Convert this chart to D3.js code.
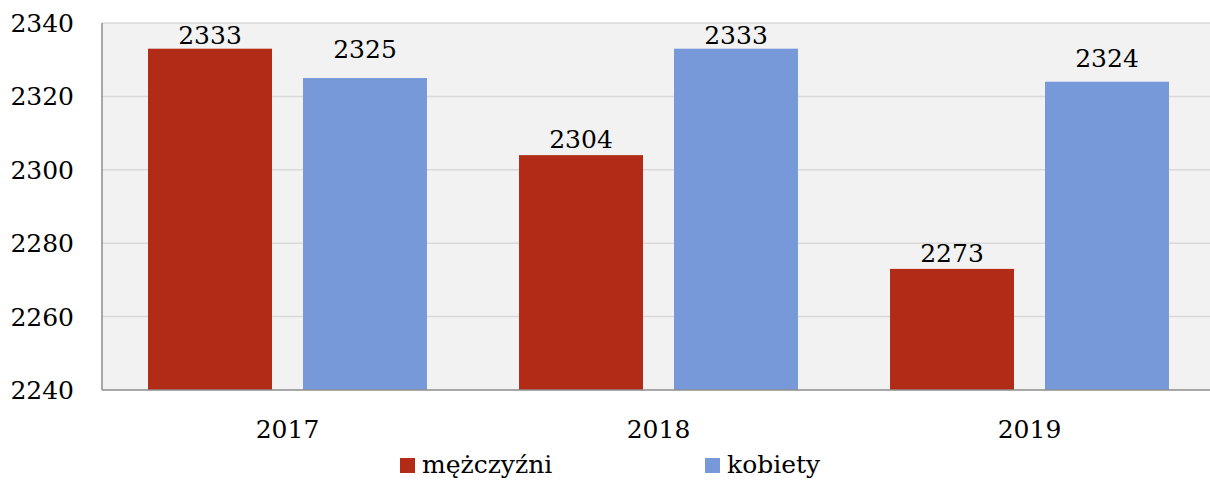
<!DOCTYPE html>
<html>
<head>
<meta charset="utf-8">
<script src="https://cdn.jsdelivr.net/npm/d3@7"></script>
<style>
  body { margin: 0; background: #fff; }
  text { font-family: "DejaVu Serif", serif; fill: #000; }
</style>
</head>
<body>
<svg id="chart" width="1210" height="483"></svg>
<script>
// data
const years = ["2017", "2018", "2019"];
const men = [2333, 2304, 2273];
const women = [2325, 2333, 2324];
const seriesNames = ["mężczyźni", "kobiety"];
const yTicks = [2240, 2260, 2280, 2300, 2320, 2340];

const colors = ["#b22b17", "#7799d9"];
// value labels sit at slightly different heights above the bars in the original
const labelGap = [[5, 20], [7, 5], [7, 15]];

const svg = d3.select("#chart");
const margin = { top: 23, left: 102, bottom: 93 };
const plotW = 1113;
const plotH = 483 - margin.top - margin.bottom;

const x = d3.scaleBand().domain(years).range([0, plotW]);
const xs = d3.scaleBand().domain([0, 1]).range([0, x.bandwidth()]).paddingInner(0.2).paddingOuter(0.297);
const y = d3.scaleLinear().domain([2240, 2340]).range([plotH, 0]);

const g = svg.append("g").attr("transform", `translate(${margin.left},${margin.top})`);

g.append("rect").attr("width", plotW).attr("height", plotH).attr("fill", "#f2f2f2");

g.selectAll("line.grid").data(yTicks.slice(1)).join("line")
  .attr("class", "grid")
  .attr("x1", 0).attr("x2", plotW)
  .attr("y1", d => y(d)).attr("y2", d => y(d))
  .attr("stroke", "#d9d9d9").attr("stroke-width", 1.5);

const rows = years.map((yr, i) => [men[i], women[i]]);
const grp = g.selectAll("g.year").data(rows).join("g")
  .attr("class", "year")
  .attr("transform", (d, i) => `translate(${x(years[i])},0)`);

grp.selectAll("rect").data(d => d).join("rect")
  .attr("x", (d, j) => xs(j))
  .attr("width", xs.bandwidth())
  .attr("y", d => y(d))
  .attr("height", d => plotH - y(d))
  .attr("fill", (d, j) => colors[j]);

grp.each(function (row, i) {
  d3.select(this).selectAll("text").data(row).join("text")
    .attr("x", (d, j) => xs(j) + xs.bandwidth() / 2)
    .attr("y", (d, j) => y(d) - labelGap[i][j])
    .attr("text-anchor", "middle")
    .attr("font-size", 25)
    .text(d => d);
});

// axes lines
g.append("line").attr("x1", 0).attr("x2", 0).attr("y1", 0).attr("y2", plotH)
  .attr("stroke", "#8c8c8c").attr("stroke-width", 1.5);
g.append("line").attr("x1", 0).attr("x2", plotW).attr("y1", plotH).attr("y2", plotH)
  .attr("stroke", "#8c8c8c").attr("stroke-width", 1.5);

// y tick labels
g.selectAll("text.ytick").data(yTicks).join("text")
  .attr("class", "ytick")
  .attr("x", -28)
  .attr("y", d => y(d) + 9)
  .attr("text-anchor", "end")
  .attr("font-size", 25)
  .text(d => d);

// x labels
g.selectAll("text.xtick").data(years).join("text")
  .attr("class", "xtick")
  .attr("x", d => x(d) + x.bandwidth() / 2)
  .attr("y", plotH + 48)
  .attr("text-anchor", "middle")
  .attr("font-size", 25)
  .text(d => d);

// legend
const legendX = [400, 705];
const lg = svg.selectAll("g.legend").data(seriesNames).join("g")
  .attr("class", "legend")
  .attr("transform", (d, i) => `translate(${legendX[i]},458)`);
lg.append("rect").attr("width", 15).attr("height", 15).attr("fill", (d, i) => colors[i]);
lg.append("text").attr("x", 22).attr("y", 15).attr("font-size", 25).text(d => d);
</script>
</body>
</html>
